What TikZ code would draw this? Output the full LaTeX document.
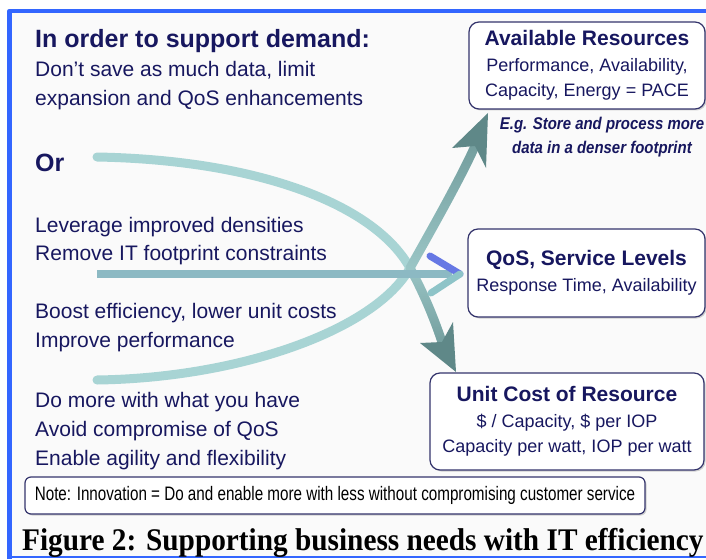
\documentclass[tikz,border=0pt]{standalone}
\usepackage{fontspec}
\setmainfont{Liberation Serif}
\setsansfont{Liberation Sans}
\usetikzlibrary{positioning,shadows,fadings}
\definecolor{navy}{HTML}{17175F}
\definecolor{frameblue}{HTML}{3366FF}
\definecolor{boxline}{HTML}{34346C}
\definecolor{lightteal}{HTML}{A8D4D4}
\definecolor{darkteal}{HTML}{5F8888}
\definecolor{midshaft}{HTML}{8CB9C3}
\definecolor{barbblue}{HTML}{6678E4}
\definecolor{barbteal}{HTML}{8EC4C8}
% fadings: black is see-through, white is solid
\pgfdeclareverticalshading{fadeupshade}{100bp}{color(0bp)=(black); color(10bp)=(black); color(100bp)=(white)}
\pgfdeclarefading{fadeup}{\pgfuseshading{fadeupshade}}
\pgfdeclareverticalshading{fadedownshade}{100bp}{color(0bp)=(white); color(90bp)=(black); color(100bp)=(black)}
\pgfdeclarefading{fadedown}{\pgfuseshading{fadedownshade}}
\tikzset{
  txtline/.style={font=\sffamily\fontsize{21}{25}\selectfont, text=navy, anchor=base west, inner sep=0pt},
  headline/.style={txtline, font=\sffamily\bfseries\fontsize{25}{30}\selectfont},
  resbox/.style={draw=boxline, line width=1.2pt, rounded corners=10pt, fill=white, text=navy,
    align=center, inner sep=0pt, font=\sffamily\fontsize{18}{25.5}\selectfont,
    drop shadow={shadow xshift=1.5pt, shadow yshift=-1.5pt, opacity=0.35}},
  flow/.style={line width=9pt, lightteal, line cap=round},
  head/.style={fill=darkteal},
}
\newcommand\boxtitle[1]{{\fontsize{21}{25.5}\selectfont\bfseries #1}}
\begin{document}
\begin{tikzpicture}[x=1pt, y=-1pt, line join=round]
\useasboundingbox (0,0) rectangle (706,559);
\fill[black!2] (9.5,11) rectangle (706,557);
\draw[frameblue, line width=4.5pt] (9.5,559) -- (9.5,11) -- (706,11);
\draw[frameblue, line width=1.2pt] (9.5,557) -- (706,557);

\node[headline] (demand) at (35,48) {In order to support demand:};
\node[headline] (or) at (35,171) {Or};
\foreach \yy/\txt [count=\i] in {77/{Don’t save as much data, limit}, 106/{expansion and QoS enhancements},
  232/{Leverage improved densities}, 260/{Remove IT footprint constraints},
  318/{Boost efficiency, lower unit costs}, 347/{Improve performance},
  407/{Do more with what you have}, 436/{Avoid compromise of QoS}, 465/{Enable agility and flexibility}}
  \node[txtline] (left\i) at (35,\yy) {\txt};

\node[resbox, minimum width=236pt, minimum height=87pt] (avail) at (587,65.5)
  {\boxtitle{Available Resources}\\Performance, Availability,\\Capacity, Energy = PACE};
\node[below=7pt of avail, xshift=15pt, inner sep=0pt, align=center, text=navy,
  font=\sffamily\bfseries\itshape\fontsize{17}{24}\selectfont] (eg)
  {\scalebox{0.88}[1]{E.g. Store and process more}\\\scalebox{0.88}[1]{data in a denser footprint}};
\node[resbox, minimum width=237pt, minimum height=88pt] (qos) at (586.5,273)
  {\boxtitle{QoS, Service Levels}\\Response Time, Availability};
\node[resbox, minimum width=274pt, minimum height=97pt] (unitcost) at (567,421.5)
  {\boxtitle{Unit Cost of Resource}\\\$ / Capacity, \$ per IOP\\Capacity per watt, IOP per watt};
\node[resbox, text=black, minimum width=620pt, minimum height=37pt, rounded corners=6pt,
  font=\sffamily\fontsize{19.5}{22}\selectfont] (note) at (335,495.5)
  {\scalebox{0.78}[1]{Note: Innovation = Do and enable more with less without compromising customer service}};
\node[anchor=base west, inner sep=0pt, font=\rmfamily\bfseries\fontsize{31.5}{36}\selectfont] (caption) at (22,550)
  {\scalebox{0.93}[1]{Figure 2: Supporting business needs with IT efficiency}};

\coordinate (orStart) at (97,157);
\coordinate (midStart) at (97,274);
\coordinate (lowStart) at (97,380);
\coordinate (cross) at (410,268);
\coordinate (downNotch) at (442,342);
\coordinate (upNotch) at (475,146);
\coordinate (hTip) at (460,274);

\draw[flow] (orStart) .. controls (260,160) and (375,205) .. (cross) .. controls (422,290) and (433,315) .. (downNotch);
\draw[flow, darkteal, path fading=fadedown] (cross) .. controls (422,290) and (433,315) .. (downNotch);
\fill[head] (456,372) -- (420,343) -- (downNotch) -- (453,322) -- cycle;

\draw[flow] (lowStart) .. controls (240,378) and (375,330) .. (cross) .. controls (425,241) and (460,180) .. (upNotch);
\draw[flow, darkteal, path fading=fadeup] (cross) .. controls (425,241) and (460,180) .. (upNotch);
\fill[head] (488,113) -- (452,148) -- (upNotch) -- (486,168) -- cycle;

\draw[line width=8pt, midshaft] (midStart) -- (452,274);
\draw[line width=7pt, barbblue, line cap=round] (430,256) -- (hTip);
\draw[line width=7pt, barbteal, line cap=round] (hTip) -- (431,293);
\end{tikzpicture}
\end{document}
